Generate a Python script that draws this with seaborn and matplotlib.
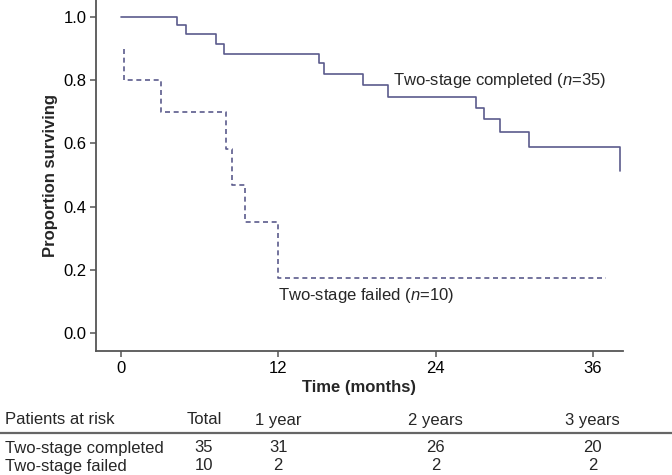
#!/usr/bin/env python3
import matplotlib
matplotlib.use("Agg")
import matplotlib.pyplot as plt
import matplotlib.transforms as mtransforms
import seaborn as sns
import pandas as pd

# Kaplan-Meier steps (time in months, survival proportion)
completed_time = [0.0, 4.3, 5.0, 7.25, 7.9, 15.1, 15.5, 18.5, 20.4, 27.1, 27.7, 28.9, 31.1, 38.1]
completed_surv = [1.0, 0.975, 0.946, 0.914, 0.883, 0.854, 0.82, 0.785, 0.747, 0.712, 0.677, 0.636, 0.589, 0.514]

failed_time = [0.2, 0.2, 3.05, 8.0, 8.5, 9.5, 12.0, 37.0]
failed_surv = [0.9, 0.8, 0.70, 0.583, 0.467, 0.35, 0.175, 0.175]

xticks = [0, 12, 24, 36]
yticks = [0.0, 0.2, 0.4, 0.6, 0.8, 1.0]

# numbers at risk table
risk_cols = ["Total", "1 year", "2 years", "3 years"]
risk_groups = ["Two-stage completed", "Two-stage failed"]
risk_completed = [35, 31, 26, 20]
risk_failed = [10, 2, 2, 2]

sns.set_theme(style="ticks")
plt.rcParams['font.family'] = ['Liberation Sans', 'DejaVu Sans']
plt.rcParams['mathtext.fontset'] = 'custom'
plt.rcParams['mathtext.rm'] = 'Liberation Sans'
plt.rcParams['mathtext.it'] = 'Liberation Sans:italic'

line_col = "#5b5b8c"
spine_col = "#555555"
fs = 12

W, H = 672, 475
fig = plt.figure(figsize=(W / 100, H / 100), dpi=100)
ax = fig.add_axes([96 / W, 1 - 351 / H, (623 - 96) / W, 351 / H])

df_c = pd.DataFrame({"time": completed_time, "surv": completed_surv})
df_f = pd.DataFrame({"time": failed_time, "surv": failed_surv})

sns.lineplot(data=df_c, x="time", y="surv", ax=ax, estimator=None, sort=False,
             drawstyle="steps-post", color=line_col, linewidth=1.2)
sns.lineplot(data=df_f, x="time", y="surv", ax=ax, estimator=None, sort=False,
             drawstyle="steps-post", color=line_col, linewidth=1.2,
             linestyle=(0, (3, 2.2)))
for ln in ax.lines:
    ln.set_clip_on(False)

ax.set_xlim(-1.9, 38.3)
ax.set_ylim(-0.057, 1.054)
ax.set_xticks(xticks)
ax.set_yticks(yticks)
ax.set_yticklabels([f"{v:.1f}" for v in yticks])
ax.tick_params(axis="both", colors=spine_col, labelcolor="black", labelsize=fs,
               length=4, width=1.1, direction="out", pad=3)
for side in ["top", "right"]:
    ax.spines[side].set_visible(False)
for side in ["left", "bottom"]:
    ax.spines[side].set_color(spine_col)
    ax.spines[side].set_linewidth(1.3)

ax.set_xlabel("Time (months)", fontsize=fs, fontweight="bold", labelpad=3)
ax.set_ylabel("Proportion surviving", fontsize=fs, fontweight="bold", labelpad=4)

ax.text(20.75, 0.80, r"Two-stage completed ($\mathit{n}$=35)", fontsize=fs,
        va="center", ha="left")
ax.text(12.0, 0.12, r"Two-stage failed ($\mathit{n}$=10)", fontsize=fs,
        va="center", ha="left")

# at-risk table below the axes
trans = mtransforms.blended_transform_factory(ax.transData, fig.transFigure)
y_head = 1 - 420 / H
y_row1 = 1 - 448 / H
y_row2 = 1 - 466 / H

fig.text(5 / W, y_head, "Patients at risk", fontsize=fs, va="center", ha="left")
fig.text(5 / W, y_row1, risk_groups[0], fontsize=fs, va="center", ha="left")
fig.text(5 / W, y_row2, risk_groups[1], fontsize=fs, va="center", ha="left")

fig.text(204 / W, y_head, risk_cols[0], fontsize=fs, va="center", ha="center")
fig.text(204 / W, y_row1, str(risk_completed[0]), fontsize=fs, va="center", ha="center")
fig.text(204 / W, y_row2, str(risk_failed[0]), fontsize=fs, va="center", ha="center")
for i, xt in enumerate(xticks[1:], start=1):
    ax.text(xt, y_head, risk_cols[i], transform=trans, fontsize=fs, va="center", ha="center")
    ax.text(xt, y_row1, str(risk_completed[i]), transform=trans, fontsize=fs, va="center", ha="center")
    ax.text(xt, y_row2, str(risk_failed[i]), transform=trans, fontsize=fs, va="center", ha="center")

fig.add_artist(plt.Line2D([0, 1], [1 - 433 / H, 1 - 433 / H], transform=fig.transFigure,
                          color="#666666", linewidth=1.6))

fig.savefig("out.png", dpi=100)
